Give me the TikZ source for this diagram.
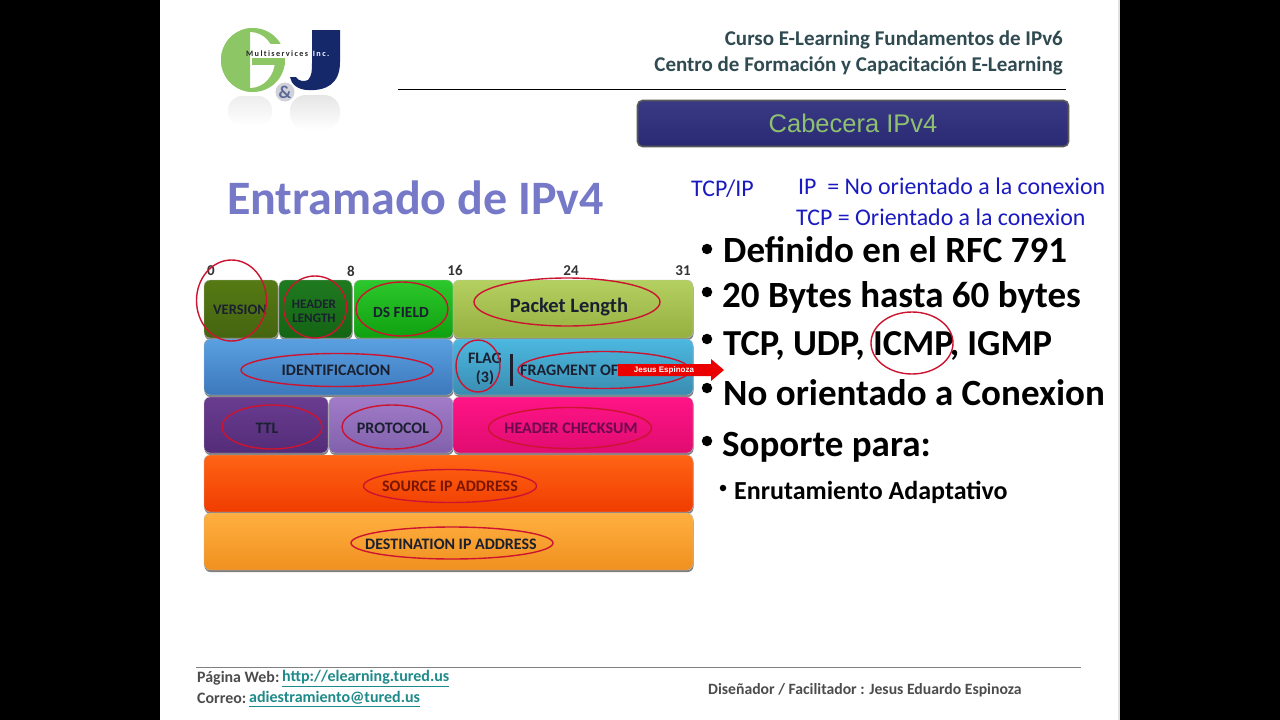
\documentclass[tikz,border=0pt]{standalone}
\usepackage{fontspec}
\setmainfont{Carlito}
\newfontfamily\arialf{Liberation Sans}
\usetikzlibrary{shapes.geometric}
\definecolor{linkc}{HTML}{1F8A8A}
\definecolor{headc}{HTML}{2F4A50}
\definecolor{tcpc}{HTML}{1A1AC0}
\definecolor{ovalc}{HTML}{CC1430}
\definecolor{gcol}{HTML}{8CC665}
\definecolor{jcol}{HTML}{14286A}
\definecolor{titlec}{HTML}{7678C8}
\definecolor{cabt}{HTML}{3A3A84}
\definecolor{cabb}{HTML}{2A2A74}
\definecolor{cabtx}{HTML}{8FC070}
\definecolor{txdark}{HTML}{1A2030}
\definecolor{chk}{HTML}{6A0850}
\definecolor{srct}{HTML}{7A1500}
\definecolor{vera}{HTML}{567A14}\definecolor{verb}{HTML}{456410}
\definecolor{hdra}{HTML}{1F7A1F}\definecolor{hdrb}{HTML}{146414}
\definecolor{dsa}{HTML}{2CC82C}\definecolor{dsb}{HTML}{10A010}
\definecolor{pka}{HTML}{B4D060}\definecolor{pkb}{HTML}{96B040}
\definecolor{ida}{HTML}{5AA0E0}\definecolor{idb}{HTML}{3C78BC}
\definecolor{fra}{HTML}{4CB8E0}\definecolor{frb}{HTML}{3A8CB0}
\definecolor{tta}{HTML}{6A3C90}\definecolor{ttb}{HTML}{532C78}
\definecolor{pra}{HTML}{A27CC8}\definecolor{prb}{HTML}{8060AC}
\definecolor{cka}{HTML}{FF1486}\definecolor{ckb}{HTML}{E00C70}
\definecolor{sra}{HTML}{FF6414}\definecolor{srb}{HTML}{F03C00}
\definecolor{dsta}{HTML}{FFB040}\definecolor{dstb}{HTML}{F09020}
\newcommand{\fs}[1]{\fontsize{#1}{#1}\selectfont}
\tikzset{
 x=1pt,y=-1pt,
 field/.style={rounded corners=6pt,inner sep=0pt,align=center,font=\bfseries\fs{14},text=txdark,draw=black!25,line width=.4pt},
 oval/.style={ellipse,draw=ovalc,line width=1.4pt,inner sep=0pt},
 bitnum/.style={font=\bfseries\fs{15},text=black!80,inner sep=0pt},
 bigb/.style={font=\bfseries\fs{37},anchor=west,inner sep=0pt,text=black},
 dot/.style={circle,fill=black,inner sep=0pt,minimum size=10.5pt},
 tcpt/.style={font=\fs{23.9},text=tcpc,anchor=west,inner sep=0pt},
 foot/.style={font=\bfseries\fs{15.9},text=black!70,anchor=west,inner sep=0pt},
 linkt/.style={font=\bfseries\fs{16},text=linkc,anchor=west,inner sep=0pt},
 ftxt/.style={font=\bfseries\fs{16},text=txdark,inner sep=0pt,align=center},
}
\newcommand{\fieldbox}[8]{%
 \pgfmathsetmacro{\cxx}{(#2+#4)/2}\pgfmathsetmacro{\cyy}{(#3+#5)/2}%
 \pgfmathsetmacro{\wdd}{#4-#2}\pgfmathsetmacro{\htt}{#5-#3}%
 \fill[black!50,rounded corners=6pt] (#2+.5,#3+2) rectangle (#4+.5,#5+2);
 \node[field,top color=#6,bottom color=#7,minimum width=\wdd pt,minimum height=\htt pt] (#1) at (\cxx,\cyy) {#8};
}
\newcommand{\ovalat}[5]{\node[oval,minimum width=#4pt,minimum height=#5pt] (#1) at (#2,#3) {};}
\begin{document}
\begin{tikzpicture}
\useasboundingbox (0,0) rectangle (1280,720);
\fill[black] (0,0) rectangle (1280,720);
\fill[white] (160,0) rectangle (1118,720);
\fill[black!12] (1118,0) rectangle (1120,720);
% logo reflection
\shade[top color=black!7,bottom color=white,rounded corners=14pt] (228,96) rectangle (272,126);
\shade[top color=black!10,bottom color=white,rounded corners=16pt] (290,95) rectangle (340,130);
% logo G
\fill[gcol] (253,60) circle (32);
\fill[white] (250,60) ellipse (25 and 28);
\begin{scope}
 \clip (215,20) rectangle (250,100);
 \fill[gcol] (253,60) circle (32);
\end{scope}
\fill[white] (252,44) rectangle (290,58);
\fill[gcol] (252,58) rectangle (285,65);
% logo J
\fill[jcol] (312,30) -- (340,30) -- (340,62) .. controls (340,84) and (326,91) .. (308,90)
  .. controls (298,90) and (291,84) .. (290,77) -- (296,77) .. controls (298,81) and (304,82) .. (308,80)
  .. controls (312,76) and (312,70) .. (312,62) -- cycle;
\node[circle,fill=blue!18!black!18,inner sep=0pt,minimum size=19pt,font=\bfseries\fs{18},text=jcol!70!white] (amp) at (285,92) {\&};
\node[font=\bfseries\fs{8.2},text=black!85,inner sep=0pt,anchor=west] (multi) at (246,54) {M\,u\,l\,t\,i\,s\,e\,r\,v\,i\,c\,e\,s\,{\color{white},\,I\,n\,c\,.}};
% header
\node[font=\bfseries\fs{21},text=headc,anchor=east,inner sep=0pt] (h1) at (1063,39.5) {Curso E-Learning Fundamentos de IPv6};
\node[font=\bfseries\fs{21},text=headc,anchor=east,inner sep=0pt] (h2) at (1063,65.5) {Centro de Formación y Capacitación E-Learning};
\coordinate (hl) at (398,89.5); \coordinate (hr) at (1066,89.5);
\draw[black,line width=.9pt] (hl) -- (hr);
\node[rounded corners=5pt,draw=black!65,line width=1.6pt,top color=cabt,bottom color=cabb,minimum width=431pt,minimum height=46pt,inner sep=0pt,font=\arialf\fs{25.5},text=cabtx] (cab) at (853,123.5) {Cabecera IPv4};
% title
\node[font=\bfseries\fs{48},text=titlec,anchor=west,inner sep=0pt] (title) at (227,198) {Entramado de IPv4};
% tcp
\node[tcpt] (t0) at (691,189) {TCP/IP};
\node[tcpt] (t1) at (798,186) {IP\ \ = No orientado a la conexion};
\node[tcpt] (t2) at (796,217) {TCP = Orientado a la conexion};
% bits
\node[bitnum] (b0) at (211,271) {0};
\node[bitnum] (b8) at (351,271) {8};
\node[bitnum] (b16) at (455,270) {16};
\node[bitnum] (b24) at (571,271) {24};
\node[bitnum] (b31) at (683,271) {31};
% fields
\fieldbox{f1}{204}{280}{278}{338}{vera}{verb}{}
\fieldbox{f2}{279}{280}{352}{338}{hdra}{hdrb}{}
\fieldbox{f3}{354}{280}{453}{338}{dsa}{dsb}{}
\fieldbox{f4}{453}{280}{693}{338}{pka}{pkb}{}
\fieldbox{f5}{204}{339}{453}{395}{ida}{idb}{}
\fieldbox{f6}{453}{339}{693}{395}{fra}{frb}{}
\fieldbox{f7}{204}{397}{328}{453}{tta}{ttb}{}
\fieldbox{f8}{329}{397}{453}{453}{pra}{prb}{}
\fieldbox{f9}{453}{397}{693}{453}{cka}{ckb}{}
\fieldbox{f10}{204}{455}{693}{512}{sra}{srb}{}
\fieldbox{f11}{204}{513}{693}{570}{dsta}{dstb}{}
% field labels
\node[ftxt,font=\bfseries\fs{14.5}] (l1) at (240,310) {VERSION};
\node[ftxt,font=\bfseries\fs{13}] (l2) at (314,311) {HEADER\\[1pt]LENGTH};
\node[ftxt,font=\bfseries\fs{15.5}] (l3) at (401,312) {DS FIELD};
\node[ftxt,font=\bfseries\fs{20.5}] (l4) at (569,307) {Packet Length};
\node[ftxt] (l5) at (336,370) {IDENTIFICACION};
\node[ftxt] (l6) at (485,358) {FLAG};
\node[ftxt] (l6b) at (485,378) {(3)};
\node[ftxt,anchor=west] (l7) at (520,370) {FRAGMENT OF};
\node[ftxt] (l8) at (267,428) {TTL};
\node[ftxt] (l9) at (393,428) {PROTOCOL};
\node[ftxt,text=chk] (l10) at (571,428) {HEADER CHECKSUM};
\node[ftxt,text=srct] (l11) at (450,486) {SOURCE IP ADDRESS};
\node[ftxt] (l12) at (451,544) {DESTINATION IP ADDRESS};
\fill[txdark] (510,354) rectangle (513,386);
% ovals
\ovalat{o1}{231.5}{300.5}{70}{81}
\ovalat{o2}{315}{307}{63}{62}
\ovalat{o3}{402}{309}{92}{54}
\ovalat{o4}{567}{302}{186}{48}
\ovalat{o5}{337}{370}{192}{33}
\ovalat{o6}{478}{366}{44}{52}
\ovalat{o7}{604}{370}{172}{37}
\ovalat{o8}{272}{427}{100}{44}
\ovalat{o9}{392}{427}{100}{44}
\ovalat{o10}{570}{428}{163}{41}
\ovalat{o11}{450}{486}{173}{33}
\ovalat{o12}{452}{543}{202}{32}
% red pointer
\fill[red!92!black] (618,364) -- (711,364) -- (711,359) -- (724,370) -- (711,381) -- (711,376) -- (618,376) -- cycle;
\node[font=\arialf\bfseries\fs{8},text=white,inner sep=0pt] (ptr) at (664,370) {Jesus Espinoza};
% bullets
\node[dot] (d1) at (707,249) {}; \node[bigb] (p1) at (723,250) {Definido en el RFC 791};
\node[dot] (d2) at (707,292) {}; \node[bigb] (p2) at (722,297) {20 Bytes hasta 60 bytes};
\node[dot] (d3) at (707,339) {}; \node[bigb,font=\bfseries\fs{36.6}] (p3) at (723,346) {TCP, UDP, ICMP, IGMP};
\node[dot] (d4) at (707,388) {}; \node[bigb] (p4) at (723,393) {No orientado a Conexion};
\node[dot] (d5) at (707,441) {}; \node[bigb] (p5) at (722,447) {Soporte para:};
\node[dot,minimum size=6.5pt] (d6) at (723,488) {}; \node[bigb,font=\bfseries\fs{26}] (p6) at (734,492) {Enrutamiento Adaptativo};
\ovalat{oicmp}{912}{343}{82}{62}
% footer
\coordinate (fl) at (196,667); \coordinate (fr) at (1081,667);
\draw[black!50,line width=1pt] (fl) -- (fr);
\node[foot] (w1) at (197,678) {Página Web:};
\node[linkt] (w2) at (282,678.5) {\underline{http://elearning.tured.us}};
\node[foot] (c1) at (197,698.5) {Correo:};
\node[linkt] (c2) at (249,699) {\underline{adiestramiento@tured.us}};
\node[foot,font=\bfseries\fs{15.7}] (ds) at (708,690) {Diseñador / Facilitador : Jesus Eduardo Espinoza};
\end{tikzpicture}
\end{document}
